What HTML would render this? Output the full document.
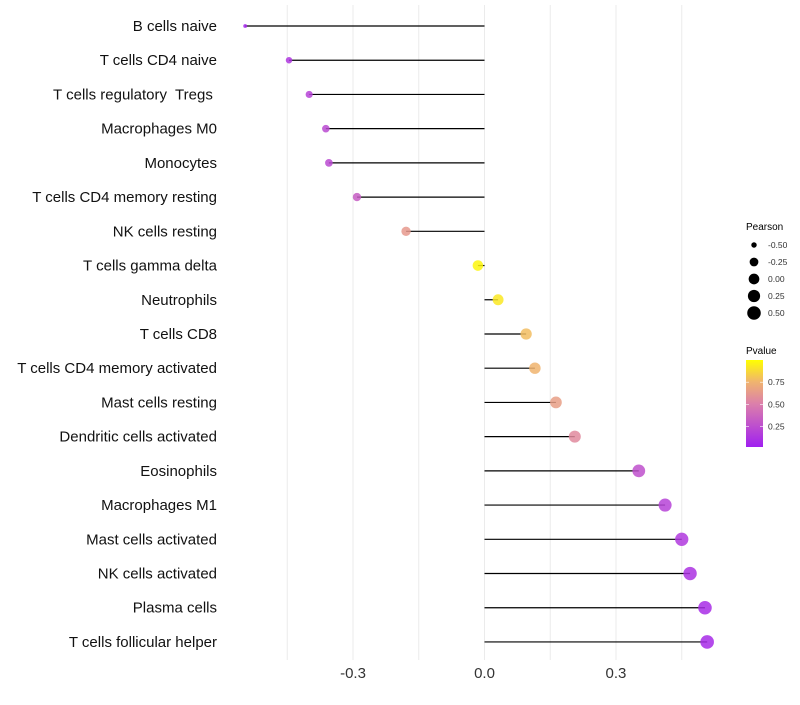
<!DOCTYPE html>
<html><head><meta charset="utf-8"><style>
body{margin:0;background:#fff;font-family:"Liberation Sans",sans-serif}
text{white-space:pre}
</style></head><body>
<svg id="chart" width="800" height="700"></svg>
<script>
const categories=["B cells naive","T cells CD4 naive","T cells regulatory  Tregs ","Macrophages M0","Monocytes","T cells CD4 memory resting","NK cells resting","T cells gamma delta","Neutrophils","T cells CD8","T cells CD4 memory activated","Mast cells resting","Dendritic cells activated","Eosinophils","Macrophages M1","Mast cells activated","NK cells activated","Plasma cells","T cells follicular helper"];
const pearson=[-0.546,-0.446,-0.40,-0.362,-0.355,-0.291,-0.179,-0.015,0.031,0.095,0.115,0.163,0.206,0.352,0.412,0.45,0.469,0.503,0.508];
const pvalue=[0.03,0.12,0.18,0.22,0.22,0.32,0.62,0.97,0.92,0.78,0.75,0.65,0.55,0.25,0.18,0.13,0.1,0.07,0.06];
const xTicks=[-0.3,0,0.3];
const xTickLabels=["-0.3","0.0","0.3"];
const legendSizes=[-0.5,-0.25,0,0.25,0.5];
const legendSizeLabels=["-0.50","-0.25","0.00","0.25","0.50"];
const pTicks=[0.25,0.5,0.75];

const NS="http://www.w3.org/2000/svg";
const svg=document.getElementById('chart');
function el(t,a,p){const e=document.createElementNS(NS,t);for(const k in a)e.setAttribute(k,a[k]);(p||svg).appendChild(e);return e;}
const x=v=>484.5+v*438.3;
const y=i=>26+i*34.22;
const r=v=>1.6+5.2*Math.sqrt(Math.max(0,(v+0.55)/1.06));
function col(p){
  const stops=[[0,[160,32,240]],[0.5,[220,128,170]],[0.75,[240,180,110]],[1,[255,255,0]]];
  for(let i=1;i<stops.length;i++){if(p<=stops[i][0]){const a=stops[i-1],b=stops[i],t=(p-a[0])/(b[0]-a[0]);return 'rgb('+a[1].map((c,j)=>Math.round(c+(b[1][j]-c)*t)).join(',')+')';}}
  return 'rgb(255,255,0)';
}
for(let v=-0.45;v<=0.46;v+=0.15){
  const g=el('line',{x1:x(v),x2:x(v),y1:5,y2:660,stroke:'#ebebeb','stroke-width':1});
  
  
}
xTicks.forEach((v,i)=>{
  const t=el('text',{x:x(v),y:678,'text-anchor':'middle','font-size':15,fill:'#333'});
  t.textContent=xTickLabels[i];
  
  
});
categories.forEach((c,i)=>{
  const t=el('text',{x:217,y:y(i)+5,'text-anchor':'end','font-size':15,fill:'#111'});
  t.textContent=c;
  
  
  const l=el('line',{x1:x(0),x2:x(pearson[i]),y1:y(i),y2:y(i),stroke:'#000','stroke-width':1.2});
  
  
  const d=el('circle',{cx:x(pearson[i]),cy:y(i),r:r(pearson[i]),fill:col(pvalue[i]),'fill-opacity':0.85});
  
  
});
const lt=el('text',{x:746,y:230,'font-size':10,fill:'#000'});lt.textContent='Pearson';


legendSizes.forEach((v,i)=>{
  const cy=245+i*17;
  const c=el('circle',{cx:754,cy:cy,r:r(v),fill:'#000'});
  
  
  const t=el('text',{x:768,y:cy+3,'font-size':8.5,fill:'#333'});t.textContent=legendSizeLabels[i];
  
  
});
const pt=el('text',{x:746,y:354,'font-size':10,fill:'#000'});pt.textContent='Pvalue';


const defs=el('defs',{});
const lg=el('linearGradient',{id:'pg',x1:0,y1:1,x2:0,y2:0},defs);
[0,0.25,0.5,0.75,1].forEach(s=>el('stop',{offset:s,'stop-color':col(s)},lg));
const barTop=360,barBot=447,pmin=0.02,pmax=1;
const py=p=>barBot-(p-pmin)/(pmax-pmin)*(barBot-barTop);
const bar=el('rect',{x:746,y:barTop,width:17,height:barBot-barTop,fill:'url(#pg)'});


pTicks.forEach(p=>{
  el('line',{x1:746,x2:749,y1:py(p),y2:py(p),stroke:'#fff','stroke-width':0.6});
  el('line',{x1:760,x2:763,y1:py(p),y2:py(p),stroke:'#fff','stroke-width':0.6});
  const t=el('text',{x:768,y:py(p)+3,'font-size':8.5,fill:'#333'});t.textContent=p.toFixed(2);
  
  
});
</script>
</body></html>
